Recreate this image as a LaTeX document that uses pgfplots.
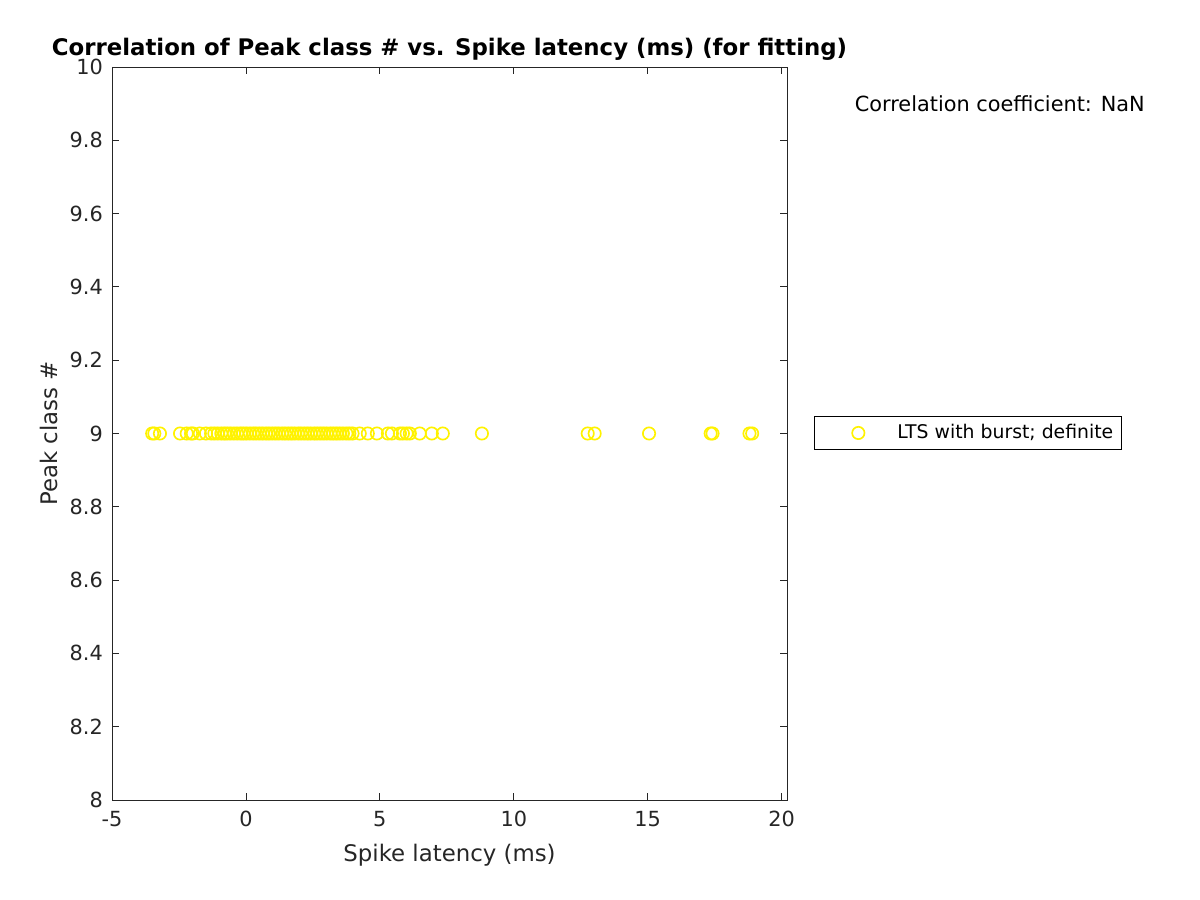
\documentclass[border=0pt]{standalone}
\usepackage{pgfplots}
\pgfplotsset{compat=1.18}
\usepackage{fontspec}
\setmainfont{DejaVu Sans}
\definecolor{axgray}{RGB}{38,38,38}
\pgfplotstableread{
x y
-3.50 9
-3.42 9
-3.21 9
-2.46 9
-2.21 9
-2.05 9
-1.98 9
-1.72 9
-1.49 9
-1.30 9
-1.18 9
-1.05 9
-0.92 9
-0.80 9
-0.70 9
-0.58 9
-0.45 9
-0.33 9
-0.20 9
-0.10 9
0.02 9
0.15 9
0.27 9
0.38 9
0.50 9
0.62 9
0.75 9
0.86 9
0.98 9
1.10 9
1.22 9
1.35 9
1.46 9
1.58 9
1.70 9
1.82 9
1.95 9
2.06 9
2.18 9
2.30 9
2.42 9
2.55 9
2.66 9
2.78 9
2.90 9
3.02 9
3.15 9
3.26 9
3.38 9
3.50 9
3.62 9
3.75 9
3.86 9
3.98 9
4.25 9
4.55 9
4.89 9
5.30 9
5.45 9
5.75 9
5.86 9
6.00 9
6.12 9
6.49 9
6.94 9
7.35 9
8.81 9
12.76 9
13.02 9
15.05 9
17.35 9
17.42 9
18.80 9
18.90 9
}\datatable
\begin{document}
\begin{tikzpicture}
\path (0,0) rectangle (720pt,540pt);
\begin{axis}[
  at={(67.2pt,60pt)}, anchor=south west,
  scale only axis, width=405pt, height=439.8pt,
  xmin=-5, xmax=20.2, ymin=8, ymax=10,
  xtick={-5,0,5,10,15,20},
  ytick={8,8.2,...,10.01},
  yticklabel style={/pgf/number format/fixed, /pgf/number format/precision=1, xshift=-2pt},
  xticklabel style={yshift=-3pt},
  /pgf/number format/assume math mode=true,
  tick align=inside,
  major tick length=4pt,
  axis line style={axgray, line width=0.5pt},
  tick style={axgray, line width=0.5pt},
  ticklabel style={font=\fontsize{12.5}{14}\selectfont, text=axgray},
  xlabel={Spike latency (ms)},
  ylabel={Peak class \#},
  xlabel style={yshift=-3.4pt},
  label style={font=\fontsize{13.7}{15}\selectfont, text=axgray},
  title={\textbf{Correlation of Peak class \# vs. Spike latency (ms) (for fitting)}},
  title style={font=\fontsize{13.7}{15}\selectfont, at={(0.5,1)}, anchor=south, inner sep=2pt, yshift=-4.2pt},
  legend style={at={(1.04,0.5007)}, anchor=west, draw=black, line width=0.4pt,
    font=\fontsize{11.3}{13}\selectfont, inner xsep=0pt, inner ysep=3pt,
    nodes={inner xsep=0pt, inner ysep=2pt}, column sep=0pt},
  legend cell align=left,
  legend image code/.code={\path[draw=none] (0pt,0pt) -- (49.8pt,0pt); \draw[only marks] plot coordinates {(26.4pt,0pt)};},
  clip=false,
]
\addplot[only marks, mark=o, mark size=3.7pt, draw=yellow, line width=1pt] table[x=x,y=y] {\datatable};
\addlegendentry{LTS with burst; definite\hspace*{5pt}}
\node[anchor=west, font=\fontsize{12.5}{14}\selectfont] at (rel axis cs:1.0918,0.9495) {Correlation coefficient: NaN};
\end{axis}
\end{tikzpicture}
\end{document}
